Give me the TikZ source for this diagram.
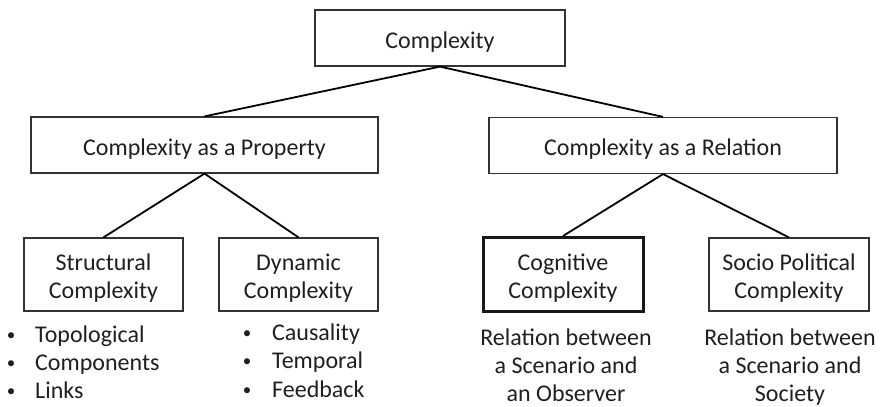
\documentclass[tikz,border=0pt]{standalone}
\usepackage{fontspec}
\setmainfont{Carlito}
% box captions sit a little below the geometric centre
\newcommand\boxlabel[1]{\raisebox{-4pt}[\height][\depth]{#1}}
\newcommand\twolines[2]{\boxlabel{\begin{tabular}{@{}c@{}}#1\\#2\end{tabular}}}
\begin{document}
\begin{tikzpicture}[x=1pt,y=-1pt,
  every node/.style={text=black!88, font=\fontsize{24}{28}\selectfont},
  box/.style={draw=black!80, line width=1.2pt, rectangle, align=center, inner sep=0pt},
  keybox/.style={box, line width=3pt, draw=black!90},
  link/.style={draw=black, line width=1.8pt},
  item/.style={inner sep=0pt, anchor=base west},
  dot/.style={inner sep=0pt, anchor=base, font=\fontsize{17}{20}\selectfont},
  note/.style={inner sep=0pt, anchor=base}]
\useasboundingbox (0,0) rectangle (881,407);

% hierarchy boxes
\node[box, minimum width=250, minimum height=56] (top) at (440,38) {\boxlabel{Complexity}};
\node[box, minimum width=347, minimum height=56] (prop) at (204.5,145) {\boxlabel{Complexity as a Property}};
\node[box, minimum width=348, minimum height=56] (rel) at (663,145.5) {\boxlabel{Complexity as a Relation}};
\node[box, minimum width=159, minimum height=73] (struct) at (103.5,274.5) {\twolines{Structural}{Complexity}};
\node[box, minimum width=159, minimum height=73] (dyn) at (298.5,274.5) {\twolines{Dynamic}{Complexity}};
\node[keybox, minimum width=160, minimum height=74] (cog) at (563,274.5) {\twolines{Cognitive}{Complexity}};
\node[box, minimum width=160, minimum height=73] (socio) at (789,274.5) {\twolines{Socio Political}{Complexity}};

% tree connectors
\draw[link] (top.south) -- (prop.north);
\draw[link] (top.south) -- (rel.north);
\draw[link] (prop.south) -- (struct.north);
\draw[link] (prop.south) -- (dyn.north);
\draw[link] (rel.south) -- (cog.north);
\draw[link] (rel.south) -- (socio.north);

% bullet lists
\foreach \t [count=\i] in {Topological, Components, Links} {
  \node[dot] (sb\i) at (11,{340+28*(\i-1)}) {•};
  \node[item] (si\i) at (35,{342+28*(\i-1)}) {\t};
}
\foreach \t [count=\i] in {Causality, Temporal, Feedback} {
  \node[dot] (db\i) at (247,{338+28.5*(\i-1)}) {•};
  \node[item] (di\i) at (272,{340+28.5*(\i-1)}) {\t};
}

% relation notes under the two right-hand boxes
\foreach \t [count=\i] in {Relation between, a Scenario and, an Observer} {
  \node[note] (cn\i) at (566,{345+28*(\i-1)}) {\t};
}
\foreach \t [count=\i] in {Relation between, a Scenario and, Society} {
  \node[note] (sn\i) at (790,{345+28*(\i-1)}) {\t};
}
\end{tikzpicture}
\end{document}
